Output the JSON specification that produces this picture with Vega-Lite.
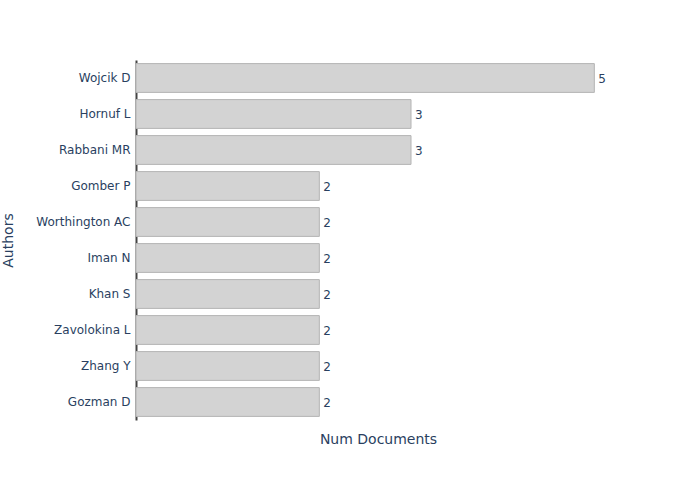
{
  "$schema": "https://vega.github.io/schema/vega-lite/v6.json",
  "width": 484,
  "height": 360,
  "autosize": {"type": "none"},
  "padding": {"left": 136, "top": 60, "right": 80, "bottom": 80},
  "background": "white",
  "config": {
    "view": {"stroke": null},
    "font": "DejaVu Sans"
  },
  "data": {
    "values": [
      {"author": "Wojcik D", "docs": 5},
      {"author": "Hornuf L", "docs": 3},
      {"author": "Rabbani MR", "docs": 3},
      {"author": "Gomber P", "docs": 2},
      {"author": "Worthington AC", "docs": 2},
      {"author": "Iman N", "docs": 2},
      {"author": "Khan S", "docs": 2},
      {"author": "Zavolokina L", "docs": 2},
      {"author": "Zhang Y", "docs": 2},
      {"author": "Gozman D", "docs": 2}
    ]
  },
  "encoding": {
    "y": {
      "field": "author",
      "type": "nominal",
      "sort": null,
      "scale": {"paddingInner": 0.2, "paddingOuter": 0.1},
      "axis": {
        "title": "Authors",
        "titleFont": "DejaVu Sans",
        "titleFontSize": 14,
        "titleFontWeight": "normal",
        "titleColor": "#2a3f5f",
        "titlePadding": 20,
        "labelFont": "DejaVu Sans",
        "labelFontSize": 12,
        "labelColor": "#2a3f5f",
        "labelPadding": 6,
        "ticks": false,
        "tickSize": 0,
        "domainColor": "#444444",
        "domainWidth": 2
      }
    },
    "x": {
      "field": "docs",
      "type": "quantitative",
      "scale": {"domain": [0, 5.28], "nice": false},
      "axis": {
        "title": "Num Documents",
        "titleFont": "DejaVu Sans",
        "titleFontSize": 14,
        "titleFontWeight": "normal",
        "titleColor": "#2a3f5f",
        "titlePadding": 12,
        "labels": false,
        "ticks": false,
        "tickSize": 0,
        "grid": false,
        "domain": false
      }
    }
  },
  "layer": [
    {
      "mark": {"type": "bar", "fill": "#d3d3d3", "stroke": "#b4b4b4", "strokeWidth": 1}
    },
    {
      "mark": {"type": "text", "align": "left", "baseline": "middle", "dx": 4, "dy": 1, "fontSize": 12, "color": "#2a3f5f", "font": "DejaVu Sans"},
      "encoding": {"text": {"field": "docs", "type": "quantitative"}}
    }
  ]
}
